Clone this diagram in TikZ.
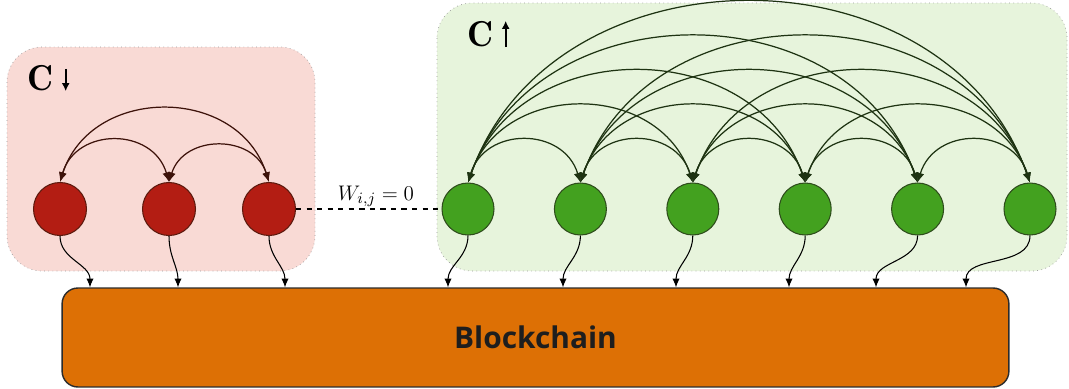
\documentclass[tikz,border=0pt]{standalone}
\usepackage{fontspec}
\newfontfamily\chainfont{Open Sans}
\usepackage{xcolor}
\definecolor{grpRougeBg}{HTML}{F9DAD5}
\definecolor{grpVertBg}{HTML}{E7F4DC}
\definecolor{grpBord}{HTML}{9A9A9A}
\definecolor{noeudRougeFd}{HTML}{B31D13}
\definecolor{noeudRougeBd}{HTML}{5C1A0E}
\definecolor{noeudVertFd}{HTML}{43A11F}
\definecolor{noeudVertBd}{HTML}{2E4D1C}
\definecolor{arcRougeTr}{HTML}{3D120A}
\definecolor{arcVertTr}{HTML}{1E3312}
\definecolor{chaineFd}{HTML}{DD7005}
\definecolor{chaineBd}{HTML}{2B2B2B}
\definecolor{chaineTxt}{HTML}{1E1E1E}
\usepackage{tikz}
\usetikzlibrary{arrows.meta, positioning}
\tikzset{
  %% ── Groups ───────────────────────────────────────────────────────────
  %% The two coalitions are only a tinted backdrop with a dotted rim.
  groupe/.style       = {draw=grpBord, line width=0.4pt, dotted,
                         rounded corners=20pt},
  groupeRouge/.style  = {groupe, fill=grpRougeBg},
  groupeVert/.style   = {groupe, fill=grpVertBg},
  titreGroupe/.style  = {font=\fontsize{20.5}{24}\selectfont, inner sep=0pt,
                         anchor=west},
  flecheTitre/.style  = {-{Latex[length=4.6pt, width=4.6pt]}, draw=black,
                         line width=1.1pt},
  %%
  %% ── Nodes ────────────────────────────────────────────────────────────
  noeud/.style        = {circle, minimum size=1.06cm, inner sep=0pt,
                         line width=0.6pt},
  noeudRouge/.style   = {noeud, fill=noeudRougeFd, draw=noeudRougeBd},
  noeudVert/.style    = {noeud, fill=noeudVertFd, draw=noeudVertBd,
                         minimum size=1.04cm},
  chaine/.style       = {draw=chaineBd, fill=chaineFd, line width=0.8pt,
                         rounded corners=9pt, text=chaineTxt,
                         font=\chainfont\bfseries\fontsize{17}{20}\selectfont},
  %%
  %% ── Arrows ───────────────────────────────────────────────────────────
  %% Inside a group every edge goes both ways, so both ends carry a head.
  arcRouge/.style     = {{Latex[length=5.5pt, width=4.4pt]}-{Latex[length=5.5pt, width=4.4pt]},
                         draw=arcRougeTr, line width=0.7pt},
  arcVert/.style      = {{Latex[length=5.5pt, width=4.4pt]}-{Latex[length=5.5pt, width=4.4pt]},
                         draw=arcVertTr, line width=0.7pt},
  flecheChaine/.style = {-{Latex[length=5pt, width=4.2pt]}, draw=black,
                         line width=0.6pt},
  lienNul/.style      = {draw=black, line width=0.6pt, dashed},
  %%
  %% ── Text ─────────────────────────────────────────────────────────────
  etiquette/.style    = {font=\fontsize{13}{15}\selectfont, inner sep=1pt,
                         above},
}

\begin{document}
\begin{tikzpicture}[x=0.02cm, y=-0.02cm]
\useasboundingbox (0,0) rectangle (1069,389);

%% Les deux coalitions, en fond.
\draw[groupeRouge] (7,47) rectangle (315,271);
\draw[groupeVert] (437,3) rectangle (1067,271);
\node[titreGroupe] (titreRouge) at (27,78) {$\mathbf{C}$};
\node[titreGroupe] (titreVert) at (467,34) {$\mathbf{C}$};
\draw[flecheTitre] ([xshift=0.24cm, yshift=-0.08cm]titreRouge.north east)
                -- ([xshift=0.24cm]titreRouge.south east);
\draw[flecheTitre] ([xshift=0.24cm]titreVert.south east)
                -- ([xshift=0.24cm]titreVert.north east);

%% Les noeuds de chaque coalition.
\foreach \i/\x in {1/60, 2/169, 3/269}
  \node[noeudRouge] (r\i) at (\x,209) {};
\foreach \i in {1,...,6}
  \node[noeudVert] (v\i) at ({468+112.4*(\i-1)},209) {};

%% La blockchain commune.
\node[chaine, minimum width=18.94cm, minimum height=1.98cm]
     (bc) at (535.5,337.5) {Blockchain};

%% Les liens internes : tous les couples, la hauteur suit l'ecart.
\foreach \a/\b/\dx/\h in {1/2/16/55, 2/3/15/48, 1/3/31/97}
  \draw[arcRouge] (r\a.north) .. controls +(\dx,-\h) and +(-\dx,-\h) .. (r\b.north);
\foreach \a in {1,...,5}
  \foreach \b in {\the\numexpr\a+1\relax,...,6} {
    \pgfmathsetmacro\d{\b-\a}
    \draw[arcVert] (v\a.north) .. controls +({17*\d},{-56-46*(\d-1)})
                                    and +({-17*\d},{-56-46*(\d-1)}) .. (v\b.north);
  }

%% Aucun poids entre les deux coalitions.
\draw[lienNul] (r3.east) -- node[etiquette, pos=0.55] (poids) {$W_{i,j} = 0$} (v1.west);

%% Chaque noeud ecrit dans la blockchain.
\foreach \i/\x in {1/90, 2/178, 3/285} {
  \coordinate (cr\i) at (\x,0 |- bc.north);
  \draw[flecheChaine] (r\i.south) to[out=-90, in=90] (cr\i);
}
\foreach \i/\x in {1/448, 2/563, 3/676, 4/789, 5/876, 6/966} {
  \coordinate (cv\i) at (\x,0 |- bc.north);
  \draw[flecheChaine] (v\i.south) to[out=-90, in=90] (cv\i);
}

\end{tikzpicture}
\end{document}
